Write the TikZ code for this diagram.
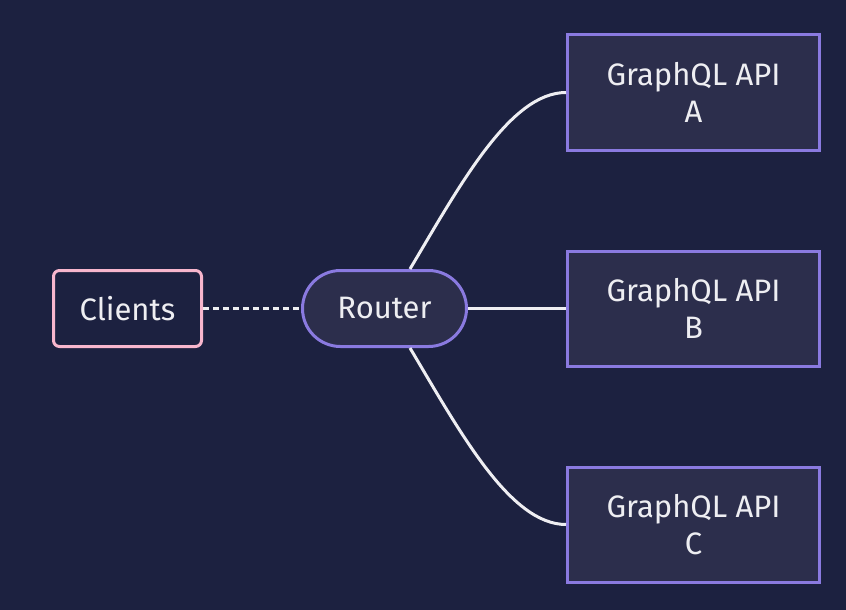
\documentclass[tikz,border=0pt]{standalone}
\usepackage{fontspec}
\setmainfont{Fira Sans}
\definecolor{bg}{HTML}{1C2140}
\definecolor{boxfill}{HTML}{2C2E4C}
\definecolor{purp}{HTML}{8A7AE0}
\definecolor{pink}{HTML}{F7B6CD}
\definecolor{txt}{HTML}{EEEEF2}
\begin{document}
\begin{tikzpicture}[x=1pt,y=-1pt,
  base/.style={line width=3pt, text=txt, font=\fontsize{31}{37}\selectfont, align=center, inner sep=0pt},
  apibox/.style={base, draw=purp, fill=boxfill, minimum width=252pt, minimum height=115pt},
  clientbox/.style={base, draw=pink, fill=bg, rounded corners=6pt, minimum width=148pt, minimum height=76pt},
  routerbox/.style={base, draw=purp, fill=boxfill, rounded corners=38pt, minimum width=164pt, minimum height=76pt},
  link/.style={draw=txt, line width=3pt}]
\fill[bg] (0,0) rectangle (846,610);
\useasboundingbox (0,0) rectangle (846,610);
\node[clientbox] (clients) at (127.5,308.5) {Clients};
\node[routerbox] (router) at (384.5,308.5) {Router};
\node[apibox] (a) at (693.5,92.5) {GraphQL API\\A};
\node[apibox] (b) at (693.5,308.5) {GraphQL API\\B};
\node[apibox] (c) at (693.5,524.5) {GraphQL API\\C};
\draw[link, dash pattern=on 6pt off 4pt] (clients.east) -- (router.west);
\draw[link] (router.east) -- (b.west);
\coordinate (ra) at (410,269);
\coordinate (rc) at (410,348);
\draw[link] (ra) .. controls (460,185) and (510,92.5) .. (a.west);
\draw[link] (rc) .. controls (460,432) and (510,524.5) .. (c.west);
\end{tikzpicture}
\end{document}
